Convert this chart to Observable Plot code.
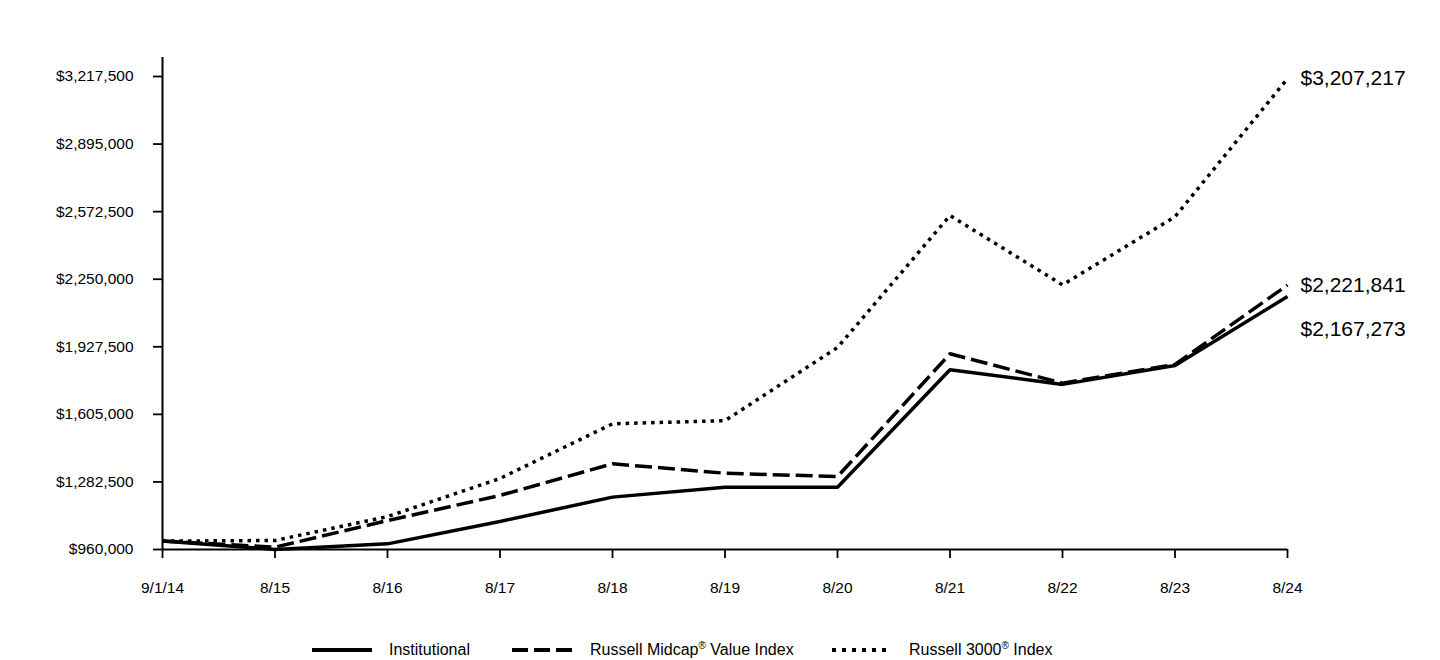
<!DOCTYPE html>
<html>
<head>
<meta charset="utf-8">
<script src="https://cdn.jsdelivr.net/npm/d3@7"></script>
<script src="https://cdn.jsdelivr.net/npm/@observablehq/plot@0.6"></script>
<style>
  html, body { margin: 0; padding: 0; background: #fff; }
  #wrap { position: relative; width: 1440px; height: 660px; font-family: "Liberation Sans", Arial, sans-serif; }
  #legend { position: absolute; top: 639px; left: 0; width: 1440px; height: 22px; }
  .item { position: absolute; top: 0; display: flex; align-items: center; height: 22px; font-size: 16px; color: #000; }
  sup { font-size: 10px; vertical-align: 6px; line-height: 0; }
</style>
</head>
<body>
<div id="wrap">
  <div id="chart"></div>
  <div id="legend"></div>
</div>
<script>
const dates = ["9/1/14", "8/15", "8/16", "8/17", "8/18", "8/19", "8/20", "8/21", "8/22", "8/23", "8/24"];
const institutional = [1000000, 960500, 987000, 1094000, 1210000, 1257000, 1257000, 1818000, 1748000, 1838000, 2167273];
const midcapValue = [1000000, 971000, 1098000, 1218000, 1369000, 1324000, 1308000, 1894000, 1754000, 1843000, 2221841];
const russell3000 = [1000000, 1003000, 1117000, 1299000, 1560000, 1575000, 1924000, 2554000, 2223000, 2548000, 3207217];
const seriesNames = ["Institutional", "Russell Midcap® Value Index", "Russell 3000® Index"];
const legendHtml = ["Institutional", "Russell Midcap<sup>®</sup> Value Index", "Russell 3000<sup>®</sup> Index"];
const yTicks = [960000, 1282500, 1605000, 1927500, 2250000, 2572500, 2895000, 3217500];

const styles = [
  {dash: null, width: 3.5},
  {dash: "17,6", width: 3.5},
  {dash: "3.5,5", width: 3.5}
];
const labelDy = [33, 0, 0];
const valuesBySeries = [institutional, midcapValue, russell3000];

const rows = valuesBySeries.flatMap((vals, s) => dates.map((d, i) => ({date: d, value: vals[i], series: seriesNames[s]})));
const fmt = d3.format("$,");

const lineMarks = valuesBySeries.map((vals, s) =>
  Plot.line(rows.filter(r => r.series === seriesNames[s]), {
    x: "date", y: "value", stroke: "#000", strokeWidth: styles[s].width,
    strokeDasharray: styles[s].dash, strokeLinejoin: "miter", strokeLinecap: "butt"
  })
);
const endLabels = valuesBySeries.map((vals, s) =>
  Plot.text([{date: dates[dates.length - 1], value: vals[vals.length - 1]}], {
    x: "date", y: "value", text: d => fmt(d.value), dx: 13, dy: labelDy[s],
    textAnchor: "start", fontSize: 21, fill: "#000"
  })
);

const axisTop = yTicks[yTicks.length - 1] + (yTicks[1] - yTicks[0]) * 0.28;

const chart = Plot.plot({
  width: 1440, height: 620,
  marginLeft: 162, marginRight: 153, marginTop: 76, marginBottom: 71,
  style: {fontFamily: "'Liberation Sans', Arial, sans-serif", fontSize: "15.5px", color: "#000", background: "#fff"},
  x: {type: "point", domain: dates, padding: 0, round: false, label: null},
  y: {domain: [yTicks[0], yTicks[yTicks.length - 1]], label: null},
  marks: [
    Plot.axisY({ticks: yTicks, tickFormat: fmt, tickSize: 9, tickPadding: 20, strokeWidth: 1.8, label: null, fontSize: 15.5}),
    Plot.axisX({tickSize: 9, tickPadding: 23, strokeWidth: 1.8, label: null, fontSize: 15.5}),
    Plot.ruleX([dates[0]], {y1: yTicks[0], y2: axisTop, stroke: "#000", strokeWidth: 2}),
    Plot.ruleY([yTicks[0]], {stroke: "#000", strokeWidth: 2}),
    ...lineMarks,
    ...endLabels
  ]
});
document.getElementById("chart").appendChild(chart);

const legend = document.getElementById("legend");
const lefts = [312, 512, 832];
const swW = [60, 60, 56];
const gaps = [17, 18, 21];
seriesNames.forEach((name, s) => {
  const div = document.createElement("div");
  div.className = "item";
  div.style.left = lefts[s] + "px";
  const dash = styles[s].dash ? (s === 1 ? "16,6" : "4,6") : "";
  div.innerHTML = `<svg width="${swW[s]}" height="10" style="margin-right:${gaps[s]}px"><line x1="0" x2="${swW[s]}" y1="5" y2="5" stroke="#000" stroke-width="4" ${dash ? `stroke-dasharray="${dash}"` : ""}/></svg><span>${legendHtml[s]}</span>`;
  legend.appendChild(div);
});
</script>
</body>
</html>
